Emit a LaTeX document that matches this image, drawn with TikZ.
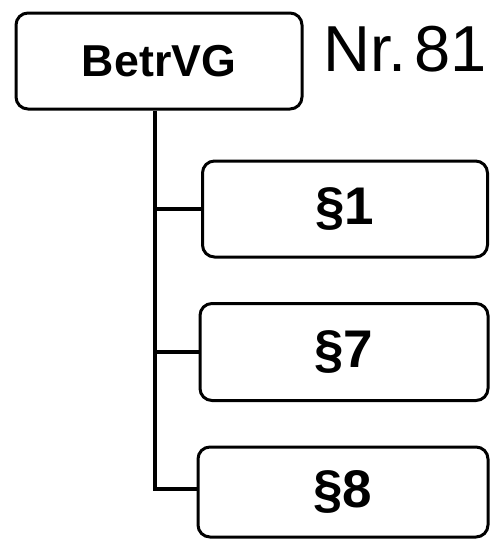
\documentclass[tikz,border=0pt]{standalone}
\usepackage{fontspec}
\setmainfont{Liberation Sans}
\usepackage{tikz}

\begin{document}
\begin{tikzpicture}[x=1pt,y=1pt,yscale=-1,xscale=1,
  box/.style={draw, line width=3pt, rounded corners=12pt, inner sep=0pt},
  link/.style={line width=4.8pt}]
\useasboundingbox (0,0) rectangle (490,542);

%Top box
\node [box, minimum width=286pt, minimum height=96pt, font=\fontsize{44.7}{50}\bfseries\selectfont] (betr) at (159,61) {BetrVG};
% Text Node
\node [anchor=west, inner sep=0pt, font=\fontsize{65}{70}\selectfont] (nr) at (323,49) {Nr.\kern0.13em81};

%Section boxes
\node [box, minimum width=285pt, minimum height=96pt, font=\fontsize{53}{58}\bfseries\selectfont] (p1) at (345,209) {\S1};
\node [box, minimum width=288pt, minimum height=97pt, font=\fontsize{53}{58}\bfseries\selectfont] (p7) at (344,352) {\S7};
\node [box, minimum width=290pt, minimum height=90pt, font=\fontsize{53}{58}\bfseries\selectfont] (p8) at (343,492) {\S8};

%Trunk and branches
\coordinate (trunk) at (155,489);
\draw [link] (betr.south -| trunk) -- (trunk) -- (trunk -| p8.west);
\draw [link] (p1.west -| trunk) -- (p1.west);
\draw [link] (p7.west -| trunk) -- (p7.west);

\end{tikzpicture}
\end{document}
